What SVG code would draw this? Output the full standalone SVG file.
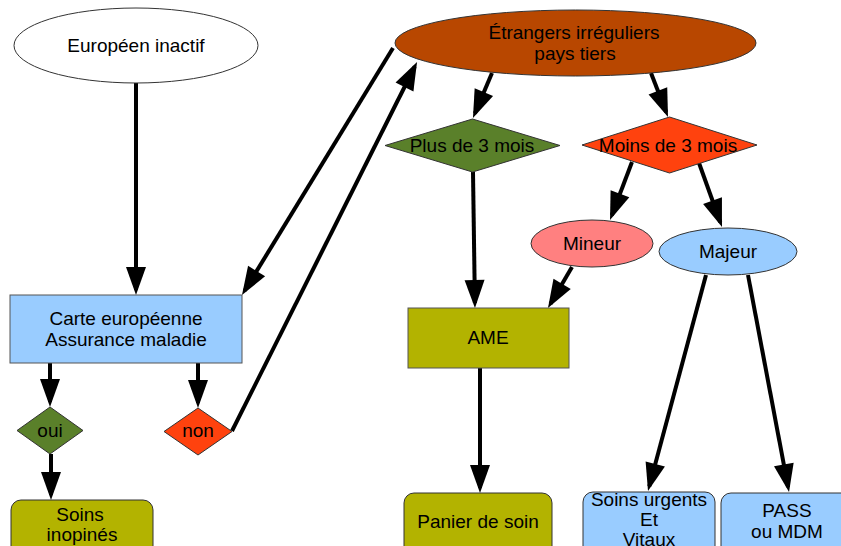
<svg xmlns="http://www.w3.org/2000/svg" width="841" height="546" viewBox="0 0 841 546">
<style>
text{font-family:"Liberation Sans",Arial,sans-serif;font-size:19px;fill:#000;text-anchor:middle}
.sh{stroke:#333;stroke-width:1}
.c line{stroke:#000;stroke-width:4;fill:none}
</style>
<defs>
<marker id="ah" markerUnits="userSpaceOnUse" markerWidth="28" markerHeight="20" refX="23" refY="10" orient="auto" overflow="visible">
<path d="M0,0 L28,10 L0,20 z" fill="#000"/>
</marker>
</defs>
<rect width="841" height="546" fill="#fff"/>
<g class="c">
<line x1="136" y1="83" x2="136" y2="290" marker-end="url(#ah)"/>
<line x1="393" y1="48" x2="244.6" y2="290.7" marker-end="url(#ah)"/>
<line x1="232" y1="431" x2="414.8" y2="66.5" marker-end="url(#ah)"/>
<line x1="492" y1="73" x2="474.9" y2="113.4" marker-end="url(#ah)"/>
<line x1="651" y1="73" x2="666.2" y2="112.3" marker-end="url(#ah)"/>
<line x1="473" y1="172" x2="474.9" y2="303" marker-end="url(#ah)"/>
<line x1="572" y1="267" x2="550.5" y2="303.7" marker-end="url(#ah)"/>
<line x1="632" y1="162" x2="611.8" y2="215.3" marker-end="url(#ah)"/>
<line x1="699" y1="163" x2="720.3" y2="222.3" marker-end="url(#ah)"/>
<line x1="706" y1="275" x2="649.3" y2="486.2" marker-end="url(#ah)"/>
<line x1="748" y1="275" x2="788.1" y2="487.1" marker-end="url(#ah)"/>
<line x1="480" y1="368" x2="480" y2="488" marker-end="url(#ah)"/>
<line x1="50" y1="363" x2="50" y2="402" marker-end="url(#ah)"/>
<line x1="198" y1="363" x2="198" y2="403" marker-end="url(#ah)"/>
<line x1="51" y1="454" x2="51" y2="495" marker-end="url(#ah)"/>
</g>
<g id="europeen">
<ellipse class="sh" cx="136" cy="45.5" rx="122" ry="37.5" fill="#fff"/>
<text x="136" y="52">Européen inactif</text>
</g>
<g id="etrangers">
<ellipse class="sh" cx="575.5" cy="43" rx="180.5" ry="33" fill="#b84700"/>
<text x="574" y="39">Étrangers irréguliers</text>
<text x="575" y="60">pays tiers</text>
</g>
<g id="plus3">
<polygon class="sh" points="385,145.5 472.5,119 560,145.5 472.5,172" fill="#5a802a"/>
<text x="472" y="152">Plus de 3 mois</text>
</g>
<g id="moins3">
<polygon class="sh" points="582,145 669.5,117 757,145 669.5,173" fill="#ff420e"/>
<text x="668" y="152">Moins de 3 mois</text>
</g>
<g id="mineur">
<ellipse class="sh" cx="592" cy="243.5" rx="61" ry="23.5" fill="#ff8080"/>
<text x="592" y="250">Mineur</text>
</g>
<g id="majeur">
<ellipse class="sh" cx="728" cy="251.5" rx="69" ry="23.5" fill="#99ccff"/>
<text x="728" y="258">Majeur</text>
</g>
<g id="carte">
<rect x="10" y="295" width="232" height="68" fill="#99ccff" stroke="#555" stroke-width="1"/>
<text x="126" y="325">Carte européenne</text>
<text x="126" y="346">Assurance maladie</text>
</g>
<g id="oui">
<polygon class="sh" points="17,430.5 50,407 83,430.5 50,454" fill="#5a802a"/>
<text x="50" y="437">oui</text>
</g>
<g id="non">
<polygon class="sh" points="164,431.5 198,408 232,431.5 198,455" fill="#ff420e"/>
<text x="198" y="437">non</text>
</g>
<g id="soins-inopines">
<rect x="11" y="500" width="142" height="70" rx="10" fill="#b3b300" stroke="#333" stroke-width="1"/>
<text x="80" y="521">Soins</text>
<text x="82" y="541">inopinés</text>
</g>
<g id="ame">
<rect x="408" y="308" width="161" height="60" fill="#b3b300" stroke="#555" stroke-width="1"/>
<text x="488" y="344">AME</text>
</g>
<g id="panier">
<rect x="404" y="493" width="148" height="70" rx="10" fill="#b3b300" stroke="#333" stroke-width="1"/>
<text x="478" y="528">Panier de soin</text>
</g>
<g id="soins-urgents">
<rect x="583" y="492" width="132" height="70" rx="10" fill="#99ccff" stroke="#333" stroke-width="1"/>
<text x="649" y="506">Soins urgents</text>
<text x="649" y="526">Et</text>
<text x="649" y="546">Vitaux</text>
</g>
<g id="pass">
<rect x="721" y="493" width="132" height="70" rx="10" fill="#99ccff" stroke="#333" stroke-width="1"/>
<text x="787" y="517">PASS</text>
<text x="787" y="538">ou MDM</text>
</g>
</svg>
